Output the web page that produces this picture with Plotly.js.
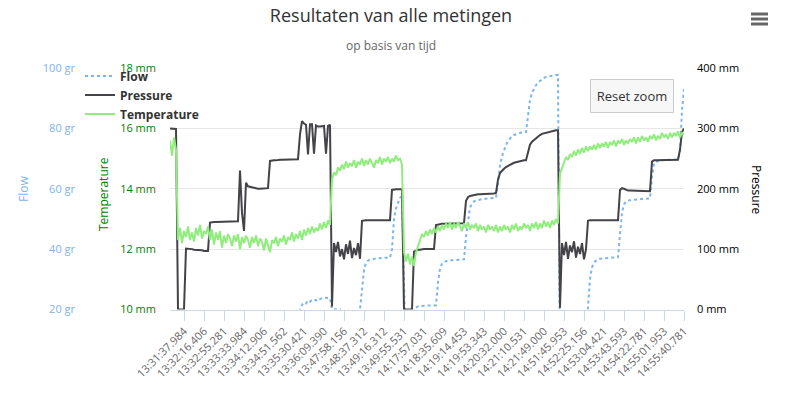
<!DOCTYPE html>
<html>
<head>
<meta charset="utf-8">
<script src="https://cdn.plot.ly/plotly-3.0.1.min.js"></script>
<style>html,body{margin:0;padding:0;background:#fff;}#chart{width:797px;height:397px;}</style>
</head>
<body>
<div id="chart"></div>
<script>
// x-axis tick labels (timestamps)
const categories = ["13:31:37.984","13:32:16.406","13:32:55.281","13:33:33.984","13:34:12.906","13:34:51.562","13:35:30.421","13:36:09.390","13:47:58.156","13:48:37.312","13:49:16.312","13:49:55.531","14:17:57.031","14:18:35.609","14:19:14.453","14:19:53.343","14:20:32.000","14:21:10.531","14:21:49.000","14:51:45.953","14:52:25.156","14:53:04.421","14:53:43.593","14:54:22.781","14:55:01.953","14:55:40.781"];

// Flow (gr)
const flow = [
0,0,0,0,0,0,0,0,0,0,0,0,0,0,0,0,0,0,0,0,0,0,0,0,0,0,0,0,0,0,0,0,0,0,0,0,0,0,0,0,0,0,0,0,0,0,0,0,0,0,0,0,0,0,0,0,0,0,0,0,0,0,0,0,0,
20,21.5,22.3,22,23,22.6,23.2,23.4,23,23.7,23.5,23.8,23.9,23.9,23.8,23.7,
20.1,20.1,20.2,20.1,20.0,
0,0,0,0,0,0,0,0,0,
20,27,33,35.5,36.2,36.5,36.7,36.8,36.9,37,37,37,37,37,37.1,37.2,
40,50,53.5,55.5,57,57.5,
0,0,0,0,0,
20.3,20.8,21,21.1,21.2,21.2,21.3,21.3,21.3,21.3,21.4,21.4,
29,33.5,35.2,35.8,36,36.2,36.3,36.3,36.4,36.4,36.5,36.5,36.5,36.6,
44,50,53.8,55,55.8,56.1,56.3,56.5,56.6,56.7,56.7,56.8,56.8,56.9,56.9,57,
62,67.5,70.8,72.8,74.5,75.8,76.8,77.4,77.8,78.1,78.3,78.5,78.6,78.7,78.8,
84,89.5,91.8,93.3,94.3,95.2,95.8,96.3,96.7,97,97.2,97.4,97.5,97.6,97.7,97.7,
0,0,0,0,0,0,0,0,0,0,0,0,0,0,
21,30,34,35.5,36.2,36.6,36.8,36.9,37,37,37.1,37.1,37.2,37.2,37.2,37.3,
45,52,54.8,55.8,56.1,56.2,56.3,56.4,56.5,56.5,56.6,56.6,56.7,56.7,56.7,56.8,
64,68.5,69,69.2,69.3,69.4,69.5,69.5,69.6,69.6,69.7,69.7,69.8,69.8,
72,86,93
];

// Pressure (mm)
const pressure = [
300,300,300,299,
0,0,0,0,
101,101,100,100,99,99,98,98,98,97,97,97,
144,145,145,145,145,145,146,146,146,146,146,146,146,146,146,
230,160,130,210,204,
203,202,201,201,200,200,200,200,201,201,
246,247,247,247,248,248,248,248,248,248,248,248,249,249,249,
290,312,308,306,257,307,307,258,305,303,303,303,304,258,304,306,
5,
110,95,112,88,100,83,108,92,114,85,102,90,110,84,
147,148,148,148,148,148,148,148,148,148,148,148,148,148,148,
198,199,199,199,199,199,
0,0,0,0,0,
96,98,99,99,100,100,100,100,100,100,100,
140,141,141,142,142,142,142,142,142,142,143,143,143,143,143,
180,186,188,189,190,190,191,191,191,192,192,192,192,192,192,193,
215,226,230,233,236,238,240,242,243,244,245,246,246,247,247,
262,273,278,281,284,286,289,291,292,293,294,295,296,296,297,297,
3,
110,90,112,84,106,95,113,86,104,92,110,83,100,
147,148,148,148,148,148,148,148,148,148,148,148,148,148,148,148,
198,201,200,198,197,197,197,196,196,196,196,196,196,196,196,196,
245,247,247,247,247,247,248,248,248,248,248,248,248,248,
265,294,300
];

// Temperature (axis labelled in mm)
const temperature = [
15.6,15.1,15.7,15.3,
12.3,12.7,12.2,12.6,12.4,12.75,12.3,12.55,12.25,12.7,12.45,12.8,12.35,12.6,12.5,12.75,
12.3,12.65,12.15,12.55,12.3,12.6,12.05,12.45,12.2,12.5,12.35,12.1,12.45,12.25,12.5,12.0,12.4,12.2,12.45,12.3,
12.05,12.4,12.2,12.45,12.1,12.35,12.25,11.95,12.35,12.15,11.9,12.3,12.2,12.4,12.1,12.35,12.25,12.45,12.15,12.4,
12.3,12.55,12.25,12.5,12.35,12.6,12.3,12.65,12.45,12.7,12.5,12.75,12.55,12.7,12.6,12.85,12.65,12.9,12.7,12.95,
12.8,
14.3,14.55,14.45,14.7,14.6,14.8,14.65,14.9,14.7,14.85,14.75,14.95,14.7,14.9,14.8,15.0,14.75,14.95,14.8,15.0,
14.85,14.7,14.95,14.85,15.05,14.8,15.0,14.9,15.05,14.85,15.0,14.9,15.1,14.95,15.0,14.8,
11.9,11.6,11.85,11.5,11.75,11.45,11.9,12.1,12.35,12.5,12.4,12.6,12.45,12.65,12.5,12.7,12.55,12.75,12.6,12.8,
12.65,12.85,12.7,12.9,12.65,12.85,12.7,12.9,12.75,12.6,12.85,12.7,12.9,12.65,12.8,12.7,12.85,12.6,12.8,12.65,
12.75,12.55,12.8,12.65,12.75,12.6,12.8,12.55,12.75,12.6,12.8,12.65,12.75,12.55,12.8,12.65,12.85,12.6,12.75,12.65,
12.85,12.7,12.8,12.6,12.85,12.7,12.9,12.65,12.85,12.7,12.95,12.75,12.9,12.7,12.95,12.8,13.0,12.85,
14.5,14.7,14.85,15.05,14.95,15.15,15.05,15.25,15.1,15.3,15.15,15.35,15.2,15.4,15.25,15.4,15.3,15.45,15.3,15.5,
15.35,15.5,15.4,15.55,15.35,15.55,15.45,15.6,15.4,15.6,15.5,15.65,15.45,15.6,15.5,15.65,15.55,15.7,15.5,15.7,
15.55,15.75,15.6,15.7,15.55,15.75,15.65,15.8,15.6,15.75,15.65,15.85,15.7,15.8,15.65,15.85,15.7,15.85,15.75,15.9,
15.7,15.85,15.8
];

// axis ticks and their labels
const flowTicks = [20, 40, 60, 80, 100];
const flowLabels = ["20 gr", "40 gr", "60 gr", "80 gr", "100 gr"];
const pressureTicks = [0, 100, 200, 300, 400];
const pressureLabels = ["0 mm", "100 mm", "200 mm", "300 mm", "400 mm"];
const tempTicks = [10, 12, 14, 16, 18];
const tempLabels = ["10 mm", "12 mm", "14 mm", "16 mm", "18 mm"];

const W = 797, H = 397;
const px = v => v / W;
const py = v => 1 - v / H;

const xs = temperature.map((_, i) => i);
const tickvals = categories.map((_, k) => 7 + 10 * k);

const traces = [
  {name: 'Flow', x: xs, y: flow, yaxis: 'y', type: 'scatter', mode: 'lines',
   line: {color: '#7cb5ec', width: 2, dash: 'dot'}, hoverinfo: 'skip'},
  {name: 'Pressure', x: xs, y: pressure, yaxis: 'y2', type: 'scatter', mode: 'lines',
   line: {color: '#434348', width: 2}, hoverinfo: 'skip'},
  {name: 'Temperature', x: xs, y: temperature, yaxis: 'y3', type: 'scatter', mode: 'lines',
   line: {color: '#90ed7d', width: 2}, hoverinfo: 'skip'}
];

const font = '"Open Sans", "Noto Sans", sans-serif';

const layout = {
  width: W, height: H,
  margin: {l: 0, r: 0, t: 0, b: 0},
  paper_bgcolor: '#ffffff', plot_bgcolor: 'rgba(0,0,0,0)',
  font: {family: font},
  title: {text: 'Resultaten van alle metingen', font: {family: font, size: 18, color: '#333333'},
          x: px(391), xanchor: 'center', y: py(16), yanchor: 'middle'},
  xaxis: {domain: [px(170), px(684)], range: [0, 257], tickmode: 'array', tickvals: tickvals, ticktext: categories,
          tickangle: -45, ticks: 'outside', ticklen: 10, tickcolor: '#ccd6eb', showline: true, linecolor: '#ccd6eb',
          showgrid: false, zeroline: false, tickfont: {family: font, size: 11, color: '#666666'}, fixedrange: true},
  yaxis: {domain: [py(309.5), py(68)], range: [20, 100], tickmode: 'array', tickvals: flowTicks, ticktext: flowLabels,
          anchor: 'free', position: px(75), side: 'left', showgrid: true, gridcolor: '#e6e6e6', zeroline: false,
          showline: false, ticks: '', tickfont: {family: font, size: 11, color: '#7cb5ec'}},
  yaxis2: {overlaying: 'y', side: 'right', anchor: 'x', range: [0, 400], tickmode: 'array', tickvals: pressureTicks,
           ticktext: pressureLabels, showgrid: false, zeroline: false, showline: false, ticks: '',
           ticklabelstandoff: 12, tickfont: {family: font, size: 11, color: '#000000'}},
  yaxis3: {overlaying: 'y', side: 'left', anchor: 'x', range: [10, 18], tickmode: 'array', tickvals: tempTicks,
           ticktext: tempLabels, showgrid: false, zeroline: false, showline: false, ticks: '',
           ticklabelstandoff: 13, tickfont: {family: font, size: 11, color: '#008000'}},
  showlegend: true,
  legend: {x: px(80), xanchor: 'left', y: py(61.5), yanchor: 'top', bgcolor: 'rgba(0,0,0,0)',
           font: {family: font, size: 12, color: '#333333', weight: 'bold'}, tracegroupgap: 0},
  annotations: [
    {text: 'op basis van tijd', xref: 'paper', yref: 'paper', x: px(391), y: py(45), xanchor: 'center', yanchor: 'middle',
     showarrow: false, font: {family: font, size: 12, color: '#666666'}},
    {text: 'Flow', xref: 'paper', yref: 'paper', x: px(23), y: py(189), xanchor: 'center', yanchor: 'middle',
     showarrow: false, textangle: -90, font: {family: font, size: 12, color: '#7cb5ec'}},
    {text: 'Temperature', xref: 'paper', yref: 'paper', x: px(103), y: py(194), xanchor: 'center', yanchor: 'middle',
     showarrow: false, textangle: -90, font: {family: font, size: 12, color: '#008000'}},
    {text: 'Pressure', xref: 'paper', yref: 'paper', x: px(757), y: py(190), xanchor: 'center', yanchor: 'middle',
     showarrow: false, textangle: 90, font: {family: font, size: 12, color: '#000000'}},
    {text: 'Reset zoom', xref: 'paper', yref: 'paper', x: px(631.5), y: py(96), xanchor: 'center', yanchor: 'middle',
     showarrow: false, bgcolor: '#f7f7f7', bordercolor: '#cccccc', borderwidth: 1, borderpad: 2, width: 78, height: 28,
     font: {family: font, size: 13, color: '#333333'}}
  ],
  shapes: [14, 19, 24].map(yy => ({type: 'line', xref: 'paper', yref: 'paper', x0: px(751), x1: px(768),
    y0: py(yy), y1: py(yy), line: {color: '#666666', width: 3}})).concat([
    // legend background hides the top gridline behind it
    {type: 'rect', xref: 'paper', yref: 'paper', x0: px(169), x1: px(205), y0: py(70), y1: py(66),
     fillcolor: '#ffffff', line: {width: 0}, layer: 'between'}
  ])
};

Plotly.newPlot('chart', traces, layout, {displayModeBar: false, staticPlot: true});
</script>
</body>
</html>
